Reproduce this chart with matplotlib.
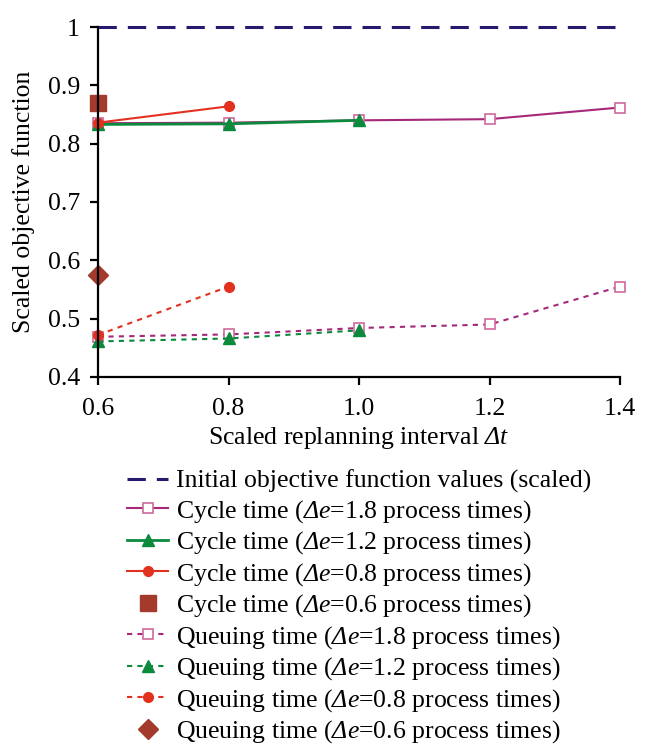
import matplotlib
matplotlib.use("Agg")
import matplotlib.pyplot as plt

plt.rcParams['font.family'] = ['Liberation Serif', 'DejaVu Serif']
plt.rcParams['mathtext.fontset'] = 'custom'
plt.rcParams['mathtext.rm'] = 'Liberation Serif'
plt.rcParams['mathtext.it'] = 'Liberation Serif:italic'
# sf slot used for italic capital Greek (mathtext forces it upright in 'it')
plt.rcParams['mathtext.sf'] = 'Liberation Serif:italic'

# data
dt = [0.6, 0.8, 1.0, 1.2, 1.4]
initial = [1.0, 1.0, 1.0, 1.0, 1.0]

cycle_18 = [0.835, 0.836, 0.840, 0.842, 0.862]
cycle_12 = [0.833, 0.834, 0.840]
cycle_08 = [0.836, 0.864]
cycle_06 = [0.869]

queue_18 = [0.469, 0.473, 0.484, 0.490, 0.555]
queue_12 = [0.461, 0.466, 0.480]
queue_08 = [0.472, 0.555]
queue_06 = [0.575]

navy = '#251a6c'
purple = '#a6287a'
pink = '#d0689c'
green = '#0b8a3e'
red = '#e3311f'
darkred = '#a33a2b'

de = '$\\mathsf{Δe}$'
fs = 18.5

fig = plt.figure(figsize=(6.45, 7.47), dpi=100)
ax = fig.add_axes([98/645, 1 - 377/747, (620 - 98)/645, (377 - 27)/747])

dots = (0, (2.5, 2.5))

ax.plot(dt, initial, color=navy, lw=2.2, linestyle=(0, (6, 3.6)),
        label='Initial objective function values (scaled)', clip_on=False)
ax.plot(dt, cycle_18, color=purple, lw=1.5, marker='s', ms=7, mfc='white', mec=pink, mew=1.2,
        label='Cycle time (' + de + '=1.8 process times)', clip_on=False)
ax.plot(dt[:3], cycle_12, color=green, lw=2, marker='^', ms=8,
        label='Cycle time (' + de + '=1.2 process times)', clip_on=False)
ax.plot(dt[:2], cycle_08, color=red, lw=1.5, marker='o', ms=7,
        label='Cycle time (' + de + '=0.8 process times)', clip_on=False)
ax.plot(dt[:1], cycle_06, color=darkred, lw=0, marker='s', ms=11,
        label='Cycle time (' + de + '=0.6 process times)', clip_on=False)
ax.plot(dt, queue_18, color=purple, lw=1.5, linestyle=dots, marker='s', ms=7, mfc='white', mec=pink, mew=1.2,
        label='Queuing time (' + de + '=1.8 process times)', clip_on=False)
ax.plot(dt[:3], queue_12, color=green, lw=1.5, linestyle=dots, marker='^', ms=8,
        label='Queuing time (' + de + '=1.2 process times)', clip_on=False)
ax.plot(dt[:2], queue_08, color=red, lw=1.5, linestyle=dots, marker='o', ms=7,
        label='Queuing time (' + de + '=0.8 process times)', clip_on=False)
ax.plot(dt[:1], queue_06, color=darkred, lw=0, marker='D', ms=10,
        label='Queuing time (' + de + '=0.6 process times)', clip_on=False)

ax.set_xlim(0.6, 1.4)
ax.set_ylim(0.4, 1.0)
ax.set_xticks(dt)
ax.set_xticklabels(['0.6', '0.8', '1.0', '1.2', '1.4'])
ax.set_yticks([0.4, 0.5, 0.6, 0.7, 0.8, 0.9, 1.0])
ax.set_yticklabels(['0.4', '0.5', '0.6', '0.7', '0.8', '0.9', '1'])
ax.spines['top'].set_visible(False)
ax.spines['right'].set_visible(False)
for s in ['left', 'bottom']:
    ax.spines[s].set_linewidth(1.6)
ax.tick_params(axis='both', length=6, width=1.6, labelsize=fs, direction='out')
ax.tick_params(axis='x', pad=9)
ax.tick_params(axis='y', pad=7)

ax.set_xlabel('Scaled replanning interval $\\mathsf{Δ}\\mathit{t}$', fontsize=fs, labelpad=4)
ax.set_ylabel('Scaled objective function', fontsize=fs, labelpad=9)

fig.legend(loc='upper left', bbox_to_anchor=(127/645, 1 - 470/747), frameon=False,
           fontsize=fs, handlelength=1.6, handletextpad=0.3, labelspacing=0.18,
           borderpad=0, borderaxespad=0)

fig.savefig('out.png', dpi=100)
